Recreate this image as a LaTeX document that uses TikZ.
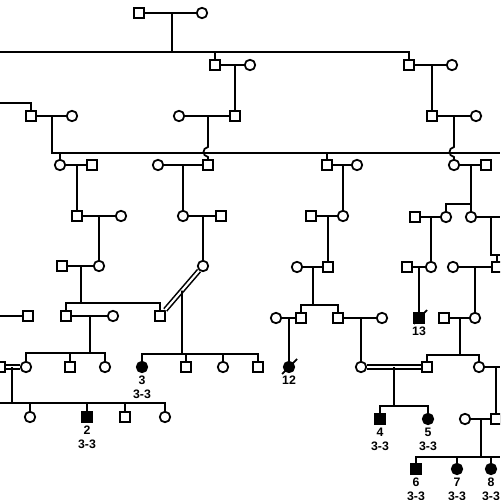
\documentclass[tikz,border=0pt]{standalone}
\usepackage{fontspec}
\newfontfamily\labelfont{Liberation Sans}
\usetikzlibrary{positioning,calc}

\begin{document}
\begin{tikzpicture}[
  x=0.02cm, y=-0.02cm,
  line width=1pt,
  sq/.style={draw,fill=white,minimum size=2.1mm,inner sep=0pt},
  ci/.style={circle,draw,fill=white,minimum size=2.1mm,inner sep=0pt},
  sqa/.style={sq,fill=black},
  cia/.style={ci,fill=black},
  dbl/.style={double,line width=0.9pt,double distance=1.2pt},
  lbl/.style={font=\labelfont\bfseries\fontsize{7}{7}\selectfont,inner sep=0.8pt,
              text height=5pt,text depth=0pt}
]
\useasboundingbox (0,0) rectangle (500,500);
\clip (0,0) rectangle (500,500);

% generation I
\node[sq] (a1) at (139,13) {};
\node[ci] (a2) at (202,13) {};
% generation II
\node[sq] (b1) at (215,65) {};
\node[ci] (b2) at (250,65) {};
\node[sq] (b3) at (409,65) {};
\node[ci] (b4) at (452,65) {};
% generation III
\node[sq] (c1) at (31,116) {};
\node[ci] (c2) at (72,116) {};
\node[ci] (c3) at (179,116) {};
\node[sq] (c4) at (235,116) {};
\node[sq] (c5) at (432,116) {};
\node[ci] (c6) at (476,116) {};
% generation IV
\node[ci] (d1) at (60,165) {};
\node[sq] (d2) at (92,165) {};
\node[ci] (d3) at (158,165) {};
\node[sq] (d4) at (208,165) {};
\node[sq] (d5) at (327,165) {};
\node[ci] (d6) at (357,165) {};
\node[ci] (d7) at (454,165) {};
\node[sq] (d8) at (486,165) {};
% generation V
\node[sq] (e1) at (77,216) {};
\node[ci] (e2) at (121,216) {};
\node[ci] (e3) at (183,216) {};
\node[sq] (e4) at (221,216) {};
\node[sq] (e5) at (311,216) {};
\node[ci] (e6) at (343,216) {};
\node[sq] (e7) at (415,217) {};
\node[ci] (e8) at (446,217) {};
\node[ci] (e9) at (471,217) {};
% generation VI
\node[sq] (f1) at (62,266) {};
\node[ci] (f2) at (99,266) {};
\node[ci] (f3) at (203,266) {};
\node[ci] (f4) at (297,267) {};
\node[sq] (f5) at (328,267) {};
\node[sq] (f6) at (407,267) {};
\node[ci] (f7) at (431,267) {};
\node[ci] (f8) at (453,267) {};
\node[sq] (f9) at (497,267) {};
% generation VII
\node[sq] (g1) at (28,316) {};
\node[sq] (g2) at (66,316) {};
\node[ci] (g3) at (113,316) {};
\node[sq] (g4) at (160,316) {};
\node[ci] (g5) at (276,318) {};
\node[sq] (g6) at (301,318) {};
\node[sq] (g7) at (338,318) {};
\node[ci] (g8) at (382,318) {};
\node[sqa] (g9) at (419,318) {};
\node[sq] (g10) at (444,318) {};
\node[ci] (g11) at (475,318) {};
% generation VIII
\node[sq] (h0) at (0,367) {};
\node[ci] (h1) at (26,367) {};
\node[sq] (h2) at (70,367) {};
\node[ci] (h3) at (105,367) {};
\node[cia] (h4) at (142,367) {};
\node[sq] (h5) at (186,367) {};
\node[ci] (h6) at (223,367) {};
\node[sq] (h7) at (258,367) {};
\node[cia] (h8) at (289,367) {};
\node[ci] (h9) at (361,367) {};
\node[sq] (h10) at (427,367) {};
\node[ci] (h11) at (479,367) {};
% generation IX
\node[ci] (i1) at (30,417) {};
\node[sqa] (i2) at (87,417) {};
\node[sq] (i3) at (125,417) {};
\node[ci] (i4) at (165,417) {};
\node[sqa] (i5) at (380,419) {};
\node[cia] (i6) at (428,419) {};
\node[ci] (i7) at (465,419) {};
\node[sq] (i8) at (496,419) {};
% generation X
\node[sqa] (j1) at (416,469) {};
\node[cia] (j2) at (457,469) {};
\node[cia] (j3) at (491,469) {};

% sibship points
\coordinate (s0) at (172,52);
\coordinate (s1) at (52,153);
\coordinate (s2) at (471,204);
\coordinate (s3) at (491,255);
\coordinate (s4) at (81,303);
\coordinate (s5) at (182,354);
\coordinate (s6) at (313,305);
\coordinate (s7) at (90,353);
\coordinate (s8) at (460,355);
\coordinate (s9) at (12,403);
\coordinate (s10) at (394,406);
\coordinate (s11) at (481,457);
% lines running off the page
\coordinate (w0) at (0,52);
\coordinate (w1) at (0,103);
\coordinate (w2) at (500,153);
\coordinate (w3) at (500,217);
\coordinate (w4) at (500,255);
\coordinate (w5) at (0,316);
\coordinate (w6) at (0,403);
\coordinate (w7) at (500,367);
\coordinate (w8) at (500,457);

% I
\draw (a1) -- (a2);
\draw (s0 |- a1) -- (s0);
\draw (w0) -| (b3);
\draw (s0 -| b1) -- (b1);
% II
\draw (b1) -- (b2);
\draw (c4 |- b1) -- (c4);
\draw (b3) -- (b4);
\draw (c5 |- b3) -- (c5);
% III
\draw (w1) -| (c1);
\draw (c1) -- (c2);
\draw (s1 |- c1) -- (s1) -- (w2);
\draw (s1 -| d1) -- (d1);
\draw (s1 -| d5) -- (d5);
\draw (c3) -- (c4);
\draw (d4 |- c3) -- ++(0,31) .. controls +(-6,1) and +(-6,-1) .. ++(0,10) -- (d4);
\draw (c5) -- (c6);
\draw (d7 |- c5) -- ++(0,31) .. controls +(-6,1) and +(-6,-1) .. ++(0,10) -- (d7);
% IV
\draw (d1) -- (d2);
\draw (e1 |- d1) -- (e1);
\draw (d3) -- (d4);
\draw (e3 |- d3) -- (e3);
\draw (d5) -- (d6);
\draw (e6 |- d5) -- (e6);
\draw (d7) -- (d8);
\draw (s2 |- d7) -- (s2);
\draw (e8) |- (s2) -- (e9);
% V
\draw (e1) -- (e2);
\draw (f2 |- e1) -- (f2);
\draw (e3) -- (e4);
\draw (f3 |- e3) -- (f3);
\draw (e5) -- (e6);
\draw (f5 |- e5) -- (f5);
\draw (e7) -- (e8);
\draw (f7 |- e7) -- (f7);
\draw (e9) -- (w3);
\draw (s3 |- e9) -- (s3) -- (w4);
\draw (s3 -| f9) -- (f9);
% VI
\draw (f1) -- (f2);
\draw (s4 |- f1) -- (s4);
\draw (g2) |- (s4) -| (g4);
\draw[dbl] (f3) -- (g4);
\draw ($(f3)!0.49!(g4)$) -- (s5);
\draw (h4) |- (s5) -| (h7);
\draw (s5 -| h5) -- (h5);
\draw (s5 -| h6) -- (h6);
\draw (f4) -- (f5);
\draw (s6 |- f4) -- (s6);
\draw (g6) |- (s6) -| (g7);
\draw (f6) -- (f7);
\draw (g9 |- f6) -- (g9);
\draw (f8) -- (f9);
\draw (g11 |- f8) -- (g11);
% VII
\draw (w5) -- (g1);
\draw (g2) -- (g3);
\draw (s7 |- g2) -- (s7);
\draw (h1) |- (s7) -| (h3);
\draw (s7 -| h2) -- (h2);
\draw (g5) -- (g6);
\draw (h8 |- g5) -- (h8);
\draw (g7) -- (g8);
\draw (h9 |- g7) -- (h9);
\draw (g10) -- (g11);
\draw (s8 |- g10) -- (s8);
\draw (h10) |- (s8) -| (h11);
% VIII
\draw[dbl] (h0) -- (h1);
\draw (s9 |- h0) -- (s9);
\draw (w6) -| (i4);
\draw (w6 -| i1) -- (i1);
\draw (w6 -| i2) -- (i2);
\draw (w6 -| i3) -- (i3);
\draw[dbl] (h9) -- (h10);
\draw (s10 |- h9) -- (s10);
\draw (i5) |- (s10) -| (i6);
\draw (h11) -- (w7);
\draw (i8 |- h11) -- (i8);
% IX
\draw (i7) -- (i8);
\draw (s11 |- i7) -- (s11);
\draw (j1) |- (w8);
\draw (w8 -| j2) -- (j2);
\draw (w8 -| j3) -- (j3);

% deceased
\draw ($(h8)+(-7,7)$) -- ($(h8)+(8,-8)$);
\draw ($(g9)+(-5,6)$) -- ($(g9)+(8,-8)$);

% labels
\node[lbl,below=0pt of h4] (n3) {3};
\node[lbl,below=0.3pt of n3] {3-3};
\node[lbl,below=0pt of i2] (n2) {2};
\node[lbl,below=0.3pt of n2] {3-3};
\node[lbl,below=0pt of h8] (n12) {12};
\node[lbl,below=0pt of g9] (n13) {13};
\node[lbl,below=0pt of i5] (n4) {4};
\node[lbl,below=0.3pt of n4] {3-3};
\node[lbl,below=0pt of i6] (n5) {5};
\node[lbl,below=0.3pt of n5] {3-3};
\node[lbl,below=0pt of j1] (n6) {6};
\node[lbl,below=0.3pt of n6] {3-3};
\node[lbl,below=0pt of j2] (n7) {7};
\node[lbl,below=0.3pt of n7] {3-3};
\node[lbl,below=0pt of j3] (n8) {8};
\node[lbl,below=0.3pt of n8] {3-3};
\end{tikzpicture}
\end{document}
